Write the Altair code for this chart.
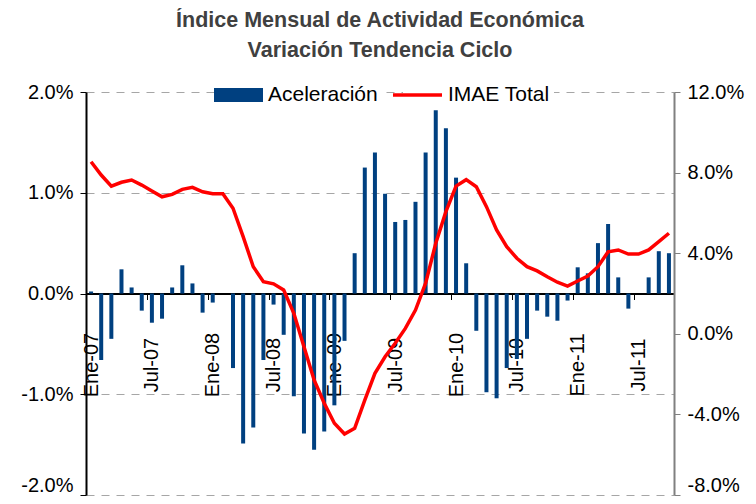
import altair as alt
import pandas as pd

meses = ["Ene", "Feb", "Mar", "Abr", "May", "Jun", "Jul", "Ago", "Sep", "Oct", "Nov", "Dic"]
periodos = [f"{m}-{a:02d}" for a in range(7, 12) for m in meses][:58]

aceleracion = [
    0.02, -0.66, -0.45, 0.24, 0.06, -0.17, -0.29, -0.25, 0.06, 0.28, 0.10, -0.19,
    -0.09, 0.00, -0.74, -1.49, -1.33, -0.66, -0.11, -0.41, -1.02, -1.39, -1.55, -1.37,
    -1.11, -0.47, 0.40, 1.25, 1.40, 0.99, 0.71, 0.73, 0.91, 1.40, 1.82, 1.64,
    1.15, 0.30, -0.37, -0.98, -1.04, -0.74, -0.65, -0.45, -0.17, -0.23, -0.27, -0.07,
    0.26, 0.20, 0.50, 0.69, 0.16, -0.15, 0.00, 0.16, 0.42, 0.40,
]

imae_total = [
    8.54, 7.88, 7.33, 7.52, 7.63, 7.38, 7.09, 6.80, 6.92, 7.17, 7.27, 7.05,
    6.95, 6.95, 6.23, 4.82, 3.33, 2.59, 2.48, 2.17, 1.02, -0.64, -2.29, -3.45,
    -4.44, -4.97, -4.69, -3.29, -1.96, -1.14, -0.47, 0.27, 1.18, 2.51, 4.49, 6.06,
    7.33, 7.65, 7.30, 6.31, 5.15, 4.32, 3.75, 3.33, 3.12, 2.83, 2.56, 2.37,
    2.62, 2.87, 3.33, 4.07, 4.16, 3.96, 3.96, 4.16, 4.57, 4.99,
]

etiquetas_x = [p for p in periodos if p.startswith("Ene") or p.startswith("Jul")]
ticks_izq = [-2, -1, 0, 1, 2]
ticks_der = [-8, -4, 0, 4, 8, 12]

df = pd.DataFrame({
    "periodo": periodos,
    "aceleracion": aceleracion,
    "imae": imae_total,
    "s1": "Aceleración",
    "s2": "IMAE Total",
})

FONT = "Liberation Sans"
pct_expr = "(datum.value < 0 ? '-' : '') + format(abs(datum.value), '.1f') + '%'"

x_enc = alt.X(
    "periodo:N",
    sort=periodos,
    scale=alt.Scale(paddingInner=0.6, paddingOuter=0.3),
    axis=alt.Axis(
        title=None,
        values=etiquetas_x,
        orient="bottom",
        offset=-201.5,
        labelAngle=270,
        labelAlign="center",
        labelBaseline="middle",
        labelPadding=65,
        labelFont=FONT,
        labelFontSize=20,
        labelColor="black",
        tickSize=6,
        tickColor="black",
        tickWidth=1,
        tickOffset=-5,
        labelOffset=5,
        domainColor="black",
        domainWidth=2,
        grid=False,
    ),
)

barras = alt.Chart(df).mark_bar(size=4).encode(
    x=x_enc,
    y=alt.Y(
        "aceleracion:Q",
        scale=alt.Scale(domain=[-2, 2], nice=False, zero=False),
        axis=alt.Axis(
            title=None,
            orient="left",
            values=ticks_izq,
            labelExpr=pct_expr,
            labelFont=FONT,
            labelFontSize=20,
            labelColor="black",
            labelPadding=7,
            labelOffset={"condition": {"test": "datum.value == -2", "value": -10}, "value": 0},
            tickSize=6,
            tickColor="black",
            domainColor="black",
            domainWidth=2,
            grid=True,
            gridColor="#A6A6A6",
            gridDash=[8, 7],
            gridWidth=1,
        ),
    ),
    color=alt.Color(
        "s1:N",
        scale=alt.Scale(domain=["Aceleración"], range=["#004080"]),
        legend=alt.Legend(
            title=None,
            orient="none",
            legendX=138,
            legendY=-11.5,
            symbolType="M-3.5,-1H3.5V1H-3.5Z",
            symbolSize=196,
            symbolStrokeWidth=0,
            labelFont=FONT,
            labelFontSize=21,
            labelColor="black",
            labelOffset=19,
            fillColor="white",
            padding=4,
        ),
    ),
)

linea = alt.Chart(df).mark_line(strokeWidth=3.5).encode(
    x=alt.X("periodo:N", sort=periodos),
    y=alt.Y(
        "imae:Q",
        scale=alt.Scale(domain=[-8, 12], nice=False, zero=False),
        axis=alt.Axis(
            title=None,
            orient="right",
            values=ticks_der,
            labelExpr=pct_expr,
            labelFont=FONT,
            labelFontSize=20,
            labelColor="black",
            labelPadding=7,
            labelOffset={"condition": {"test": "datum.value == -8", "value": -10}, "value": 0},
            tickSize=6,
            tickColor="#808080",
            domainColor="#808080",
            domainWidth=2,
            grid=False,
        ),
    ),
    color=alt.Color(
        "s2:N",
        scale=alt.Scale(domain=["IMAE Total"], range=["#FF0000"]),
        legend=alt.Legend(
            title=None,
            orient="none",
            legendX=317,
            legendY=-11.5,
            symbolType="M-3.5,0H3.5",
            symbolSize=196,
            symbolStrokeWidth=3.5,
            labelFont=FONT,
            labelFontSize=21,
            labelColor="black",
            labelOffset=20,
            fillColor="white",
            padding=4,
        ),
    ),
)

chart = (
    alt.layer(barras, linea)
    .resolve_scale(y="independent", color="independent")
    .resolve_legend(color="independent")
    .properties(
        width=588,
        height=403,
        autosize=alt.AutoSizeParams(type="none"),
        padding={"left": 78, "top": 84, "right": 74, "bottom": 1},
        title=alt.TitleParams(
            text=["Índice Mensual de Actividad Económica", "Variación Tendencia Ciclo"],
            font=FONT,
            fontSize=21.5,
            fontWeight="bold",
            color="#404040",
            lineHeight=30,
            anchor="middle",
            offset=19,
        ),
    )
    .configure_view(stroke=None)
)

chart.save("out.html", embed_options={"renderer": "svg", "actions": False})
